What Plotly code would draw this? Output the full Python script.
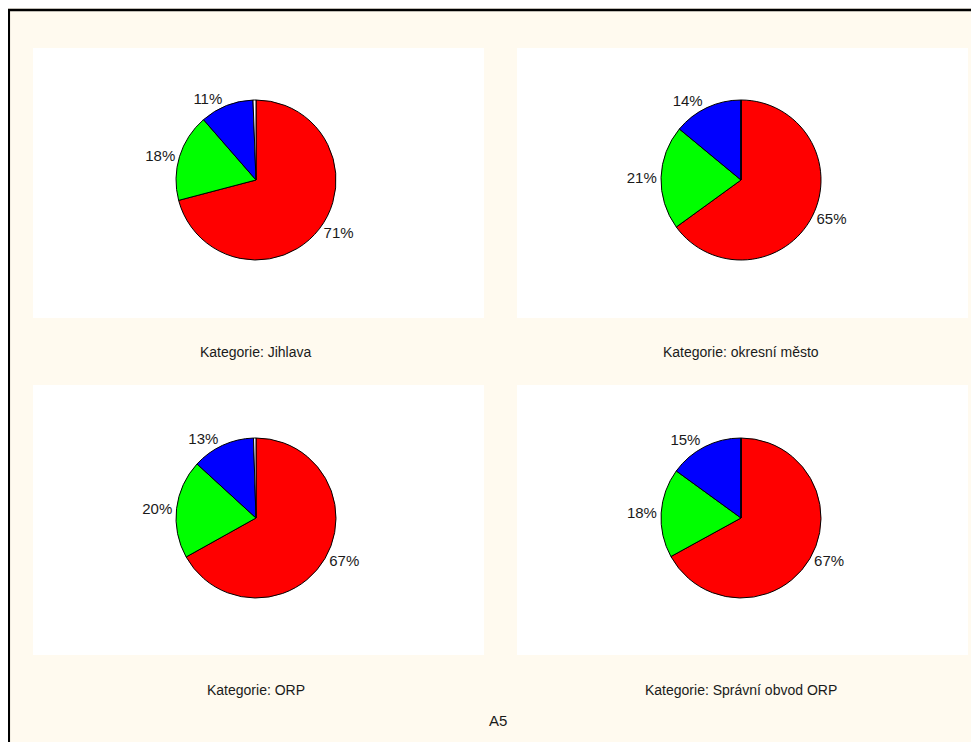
import plotly.graph_objects as go

# page has an 8px body margin; figure sized to fill the rest of the window
OFF = 8
W, H = 979 - OFF, 742 - OFF

categories = ["A", "B", "C", "D"]
colors = ["#FF0000", "#00FF00", "#0000FF", "#FFFFFF"]
titles = ["Kategorie: Jihlava", "Kategorie: okresní město",
          "Kategorie: ORP", "Kategorie: Správní obvod ORP"]
values_jihlava = [70.9, 17.7, 10.8, 0.6]
values_okres = [65.0, 21.0, 14.0, 0.0]
values_orp = [66.9, 19.9, 12.7, 0.5]
values_spravni = [67.0, 18.0, 15.0, 0.0]
all_values = [values_jihlava, values_okres, values_orp, values_spravni]
footer = "A5"

# layout geometry (page pixels)
centers = [(256, 180), (741, 180), (256, 518), (741, 518)]
R = 80
panels = [(33, 48, 484, 318), (517, 48, 968, 318), (33, 385, 484, 655), (517, 385, 968, 655)]
title_pos = [(256, 352), (741, 352), (256, 690), (741, 690)]

def px(x):
    return (x - OFF) / W

def py(y):
    return 1 - (y - OFF) / H

fig = go.Figure()
for vals, (cx, cy) in zip(all_values, centers):
    texts = ["%{percent:.0%}" if v > 1 else "" for v in vals]
    fig.add_trace(go.Pie(
        labels=categories, values=vals, sort=False, direction="clockwise",
        rotation=0, marker=dict(colors=colors, line=dict(color="black", width=1)),
        texttemplate=texts, textposition="outside",
        textfont=dict(family="Liberation Sans, Arial", size=15, color="#1a1a1a"),
        showlegend=False, hoverinfo="label+percent",
        domain=dict(x=[px(cx - R), px(cx + R)], y=[py(cy + R), py(cy - R)]),
    ))

shapes = []
for (x0, y0, x1, y1) in panels:
    shapes.append(dict(type="rect", xref="paper", yref="paper", layer="below",
                       x0=px(x0), x1=px(x1), y0=py(y1), y1=py(y0),
                       fillcolor="white", line=dict(width=0)))
shapes.append(dict(type="line", xref="paper", yref="paper", x0=px(8), x1=px(985),
                   y0=py(10), y1=py(10), line=dict(color="black", width=2.5)))
shapes.append(dict(type="line", xref="paper", yref="paper", x0=px(8.8), x1=px(8.8),
                   y0=py(9), y1=py(750), line=dict(color="black", width=2.5)))

annotations = []
for t, (x, y) in zip(titles, title_pos):
    annotations.append(dict(text=t, x=px(x), y=py(y), xref="paper", yref="paper",
                            showarrow=False, xanchor="center", yanchor="middle",
                            font=dict(family="Liberation Sans, Arial", size=14, color="#1a1a1a")))
annotations.append(dict(text=footer, x=px(498), y=py(720), xref="paper", yref="paper",
                        showarrow=False, xanchor="center", yanchor="middle",
                        font=dict(family="Liberation Sans, Arial", size=15, color="#1a1a1a")))

fig.update_layout(width=W, height=H, margin=dict(l=0, r=0, t=0, b=0),
                  paper_bgcolor="#FFFAEF", plot_bgcolor="#FFFAEF",
                  shapes=shapes, annotations=annotations)
fig.write_html("out.html", default_width=f"{W}px", default_height=f"{H}px")
